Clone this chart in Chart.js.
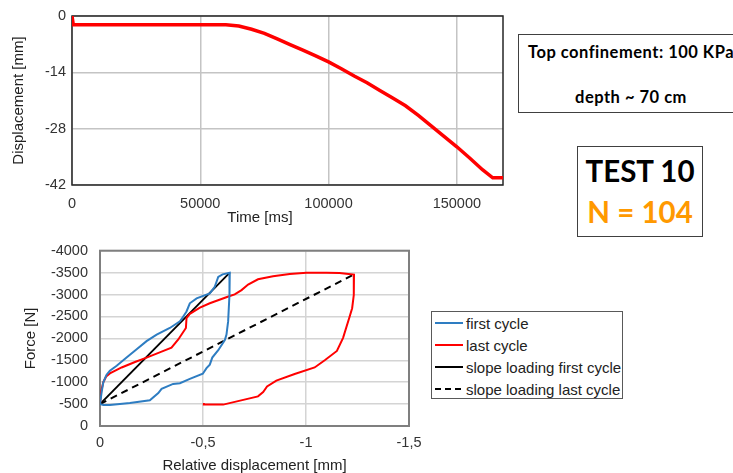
<!DOCTYPE html>
<html>
<head>
<meta charset="utf-8">
<script src="https://cdn.jsdelivr.net/npm/chart.js@4.4.1/dist/chart.umd.min.js"></script>
<style>
  body { margin: 0; width: 733px; height: 473px; overflow: hidden; background: #fff; font-family: "Liberation Sans", Arial, sans-serif; }
  canvas { position: absolute; }
  .box { position: absolute; border: 1px solid #404040; box-sizing: border-box; font-family: Lato, "Open Sans", sans-serif; font-weight: bold; }
  .txt { position: absolute; white-space: nowrap; transform: translate(-50%, -50%); }
  #legend { position: absolute; left: 431px; top: 311px; width: 192px; height: 88px; border: 1.5px solid #595959; box-sizing: border-box; }
  .item { position: absolute; left: 3px; height: 18px; font-size: 15px; color: #222; display: flex; align-items: center; }
  .sample { width: 28px; height: 2px; margin-right: 3px; }
</style>
</head>
<body>
<canvas id="top" width="510" height="230" style="left:0;top:0"></canvas>
<div class="txt" style="left:260px;top:216px;font-size:15px;color:#222">Time [ms]</div>
<canvas id="bottom" width="430" height="250" style="left:0;top:230px"></canvas>

<div class="box" style="left:518px;top:34px;width:225px;height:79px">
  <div class="txt" style="left:112px;top:17px;font-size:16.5px;letter-spacing:0.5px">Top confinement: 100 KPa</div>
  <div class="txt" style="left:112px;top:62px;font-size:16.5px;letter-spacing:0.5px">depth ~ 70 cm</div>
</div>
<div class="box" style="left:577px;top:146px;width:126px;height:91px">
  <div class="txt" style="left:62px;top:23px;font-size:29.5px">TEST 10</div>
  <div class="txt" style="left:62px;top:64px;font-size:29.5px;color:#ff9900">N = 104</div>
</div>
<div id="legend"></div>

<script>
// top chart: displacement vs time
const timeMs = [0, 500, 60000, 65000, 70000, 75000, 80000, 85000, 90000, 95000, 100000, 105000, 110000,
  115000, 120000, 125000, 130000, 135000, 140000, 145000, 150000, 155000, 160000, 164000, 168000];
const dispMm = [0, -2.2, -2.2, -2.5, -3.3, -4.3, -5.7, -7.1, -8.5, -9.9, -11.4, -13.1, -14.9,
  -16.6, -18.5, -20.4, -22.3, -24.7, -27.3, -29.9, -32.5, -35.3, -38.2, -40.2, -40.2];
const timeTicks = [0, 50000, 100000, 150000];
const dispTicks = [0, -14, -28, -42];

// bottom chart: force vs relative displacement
const firstX = [0, -0.008, -0.016, -0.032, -0.048, -0.081, -0.129, -0.178, -0.226, -0.275, -0.339, -0.388, -0.401,
  -0.420, -0.436, -0.469, -0.533, -0.557, -0.574, -0.595, -0.630,
  -0.630, -0.627, -0.622, -0.614, -0.606, -0.574, -0.545, -0.533, -0.517, -0.499, -0.436, -0.388, -0.355,
  -0.299, -0.283, -0.242, -0.145, -0.048, -0.016, 0];
const firstF = [-500, -773, -998, -1171, -1261, -1374, -1561, -1749, -1937, -2087, -2237, -2387, -2477,
  -2613, -2800, -2913, -3025, -3176, -3401, -3461, -3498,
  -3300, -2988, -2387, -2087, -1960, -1730, -1561, -1400, -1320, -1193, -1074, -976, -961,
  -848, -750, -586, -525, -480, -480, -500];
const lastX = [0, -0.006, -0.016, -0.030, -0.048, -0.105, -0.170, -0.226, -0.299, -0.347, -0.380, -0.417, -0.420,
  -0.436, -0.485, -0.533, -0.630, -0.654, -0.687, -0.719, -0.767, -0.840, -0.921, -1.002, -1.099, -1.163, -1.195, -1.233,
  -1.233, -1.231, -1.224, -1.212, -1.180, -1.150, -1.091, -1.042, -0.945, -0.856, -0.811, -0.792, -0.767,
  -0.598, -0.504, -0.504];
const lastF = [-500, -800, -1000, -1130, -1200, -1336, -1460, -1561, -1696, -1786, -1975, -2237, -2462,
  -2560, -2700, -2800, -2966, -3003, -3101, -3228, -3348, -3416, -3468, -3499, -3499, -3491, -3476, -3454,
  -3364, -2988, -2688, -2500, -2012, -1712, -1501, -1336, -1186, -1036, -901, -773, -676,
  -488, -488, -525];
const slopeFirstX = [0, -0.630];
const slopeFirstF = [-500, -3498];
const slopeLastX = [0, -1.231];
const slopeLastF = [-500, -3453];
const relTicks = [0, -0.5, -1, -1.5];
const forceTicks = [0, -500, -1000, -1500, -2000, -2500, -3000, -3500, -4000];

const pts = (xs, ys) => xs.map((x, i) => ({ x: x, y: ys[i] }));
const useTicks = (vals) => (s) => { s.ticks = vals.map((v) => ({ value: v })); };

const framePlugin = {
  id: "frame",
  beforeDatasetsDraw(chart, args, opts) {
    const a = chart.chartArea;
    const c = chart.ctx;
    c.save();
    c.strokeStyle = opts.color;
    c.lineWidth = opts.width;
    c.strokeRect(a.left, a.top, a.right - a.left, a.bottom - a.top);
    c.restore();
  },
};

const tickFont = { family: "Liberation Sans", size: 14.5 };
const titleFont = { family: "Liberation Sans", size: 15 };

new Chart(document.getElementById("top"), {
  type: "scatter",
  data: {
    datasets: [{
      data: pts(timeMs, dispMm),
      showLine: true,
      borderColor: "#ff0000",
      borderWidth: 3.5,
      pointRadius: 0,
    }],
  },
  options: {
    responsive: false,
    animation: false,
    layout: { padding: { top: 16, right: 7, left: 0, bottom: 0 } },
    plugins: { legend: { display: false }, tooltip: { enabled: false }, frame: { color: "#262626", width: 1.5 } },
    scales: {
      x: {
        type: "linear", min: 0, max: 168000,
        afterBuildTicks: useTicks(timeTicks),
        ticks: { font: tickFont, color: "#333", padding: 10, maxRotation: 0, autoSkip: false, callback: (v) => String(v) },
        afterFit: (s) => { s.height = 45; },
        grid: { color: "#c4c4c4", drawTicks: false, lineWidth: 1.5 },
        border: { display: false },
      },
      y: {
        min: -42, max: 0,
        afterBuildTicks: useTicks(dispTicks),
        ticks: { font: tickFont, color: "#333", padding: 6, callback: (v) => String(v) },
        afterFit: (s) => { s.width = 72; },
        grid: { color: "#c4c4c4", drawTicks: false, lineWidth: 1.5 },
        border: { display: false },
        title: { display: true, text: "Displacement [mm]", font: titleFont, color: "#222", padding: { top: 10 } },
      },
    },
  },
  plugins: [framePlugin],
});

const bottomChart = new Chart(document.getElementById("bottom"), {
  type: "scatter",
  data: {
    datasets: [
      { label: "first cycle", data: pts(firstX, firstF), borderColor: "#2e7dc2", borderWidth: 2 },
      { label: "last cycle", data: pts(lastX, lastF), borderColor: "#ff0000", borderWidth: 2 },
      { label: "slope loading first cycle", data: pts(slopeFirstX, slopeFirstF), borderColor: "#000", borderWidth: 1.8 },
      { label: "slope loading last cycle", data: pts(slopeLastX, slopeLastF), borderColor: "#000", borderWidth: 2, borderDash: [7, 5] },
    ].map((d) => Object.assign(d, { showLine: true, pointRadius: 0, tension: 0 })),
  },
  options: {
    responsive: false,
    animation: false,
    layout: { padding: { top: 18, right: 21, left: 0, bottom: 0 } },
    plugins: { legend: { display: false }, tooltip: { enabled: false }, frame: { color: "#7f7f7f", width: 2 } },
    scales: {
      x: {
        type: "linear", min: -1.5, max: 0, reverse: true,
        afterBuildTicks: useTicks(relTicks),
        ticks: {
          font: tickFont, color: "#333", padding: 8, maxRotation: 0, autoSkip: false,
          callback: (v) => (v === 0 ? "0" : String(v).replace(".", ",")),
        },
        afterFit: (s) => { s.height = 54; },
        grid: { color: "#d4d4d4", drawTicks: false, lineWidth: 1.5 },
        border: { display: false },
        title: { display: true, text: "Relative displacement [mm]", font: titleFont, color: "#222", padding: { bottom: 5 } },
      },
      y: {
        min: -4000, max: 0, reverse: true,
        afterBuildTicks: useTicks(forceTicks),
        ticks: { font: tickFont, color: "#333", padding: 12, autoSkip: false, callback: (v) => String(v) },
        afterFit: (s) => { s.width = 100; },
        grid: { color: "#d4d4d4", drawTicks: false, lineWidth: 1.5 },
        border: { display: false },
        title: { display: true, text: "Force [N]", font: titleFont, color: "#222", padding: { top: 22 } },
      },
    },
  },
  plugins: [framePlugin],
});

// html legend built from the datasets
const legend = document.getElementById("legend");
bottomChart.data.datasets.forEach((d, i) => {
  const row = document.createElement("div");
  row.className = "item";
  row.style.top = (2 + i * 22) + "px";
  const sample = document.createElement("div");
  sample.className = "sample";
  if (d.borderDash) {
    sample.style.background = "repeating-linear-gradient(to right, #000 0 6px, transparent 6px 10px)";
  } else {
    sample.style.background = d.borderColor;
  }
  row.appendChild(sample);
  row.appendChild(document.createTextNode(d.label));
  legend.appendChild(row);
});
</script>
</body>
</html>
